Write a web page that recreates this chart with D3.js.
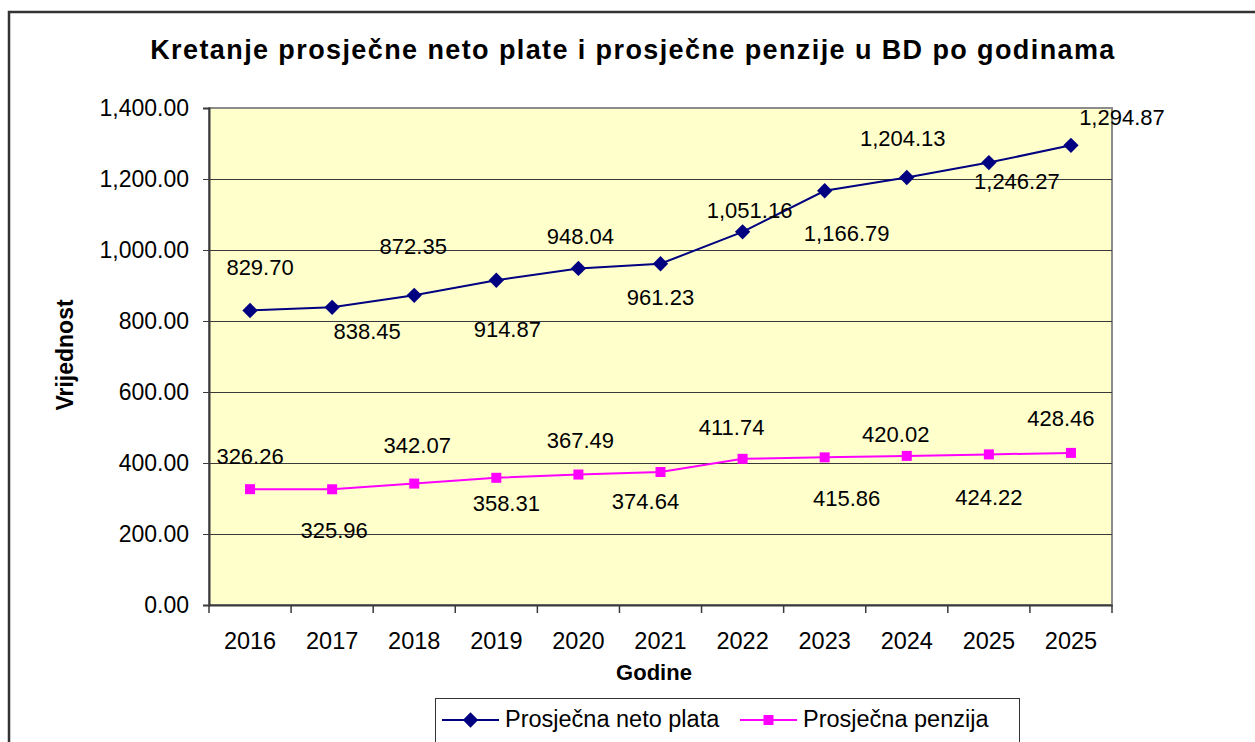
<!DOCTYPE html>
<html>
<head>
<meta charset="utf-8">
<script src="https://cdn.jsdelivr.net/npm/d3@7"></script>
<style>
  body { margin: 0; background: #fff; }
  svg { display: block; font-family: "Liberation Sans", Arial, sans-serif; }
</style>
</head>
<body>
<div class="chart"></div>
<script>
// data
const years = ["2016", "2017", "2018", "2019", "2020", "2021", "2022", "2023", "2024", "2025", "2025"];
const netoPlata = [829.70, 838.45, 872.35, 914.87, 948.04, 961.23, 1051.16, 1166.79, 1204.13, 1246.27, 1294.87];
const penzija = [326.26, 325.96, 342.07, 358.31, 367.49, 374.64, 411.74, 415.86, 420.02, 424.22, 428.46];
const yTicks = [0, 200, 400, 600, 800, 1000, 1200, 1400];

// where the value labels sit relative to the marker (px)
const netoLabelOff = [[10, -43], [35, 24], [-1, -49], [11, 49], [2, -32], [0, 33], [7, -22], [22, 42], [-4, -39], [28, 19], [51, -28]];
const penzLabelOff = [[0, -33], [2, 41], [3, -38], [10, 25], [2, -34], [-15, 29], [-11, -32], [22, 41], [-11, -22], [0, 43], [-10, -35]];

const W = 1255, H = 742;
const plot = { left: 209, right: 1112, top: 108, bottom: 605 };

const svg = d3.select(".chart")
    .append("svg")
    .attr("width", W)
    .attr("height", H);

// outer frame (runs off the right and bottom)
svg.append("path")
    .attr("d", `M9,${H + 5} V12 H${W + 5}`)
    .attr("fill", "none")
    .attr("stroke", "#333")
    .attr("stroke-width", 2.5);

const x = d3.scaleBand().domain(d3.range(years.length)).range([plot.left, plot.right]);
const y = d3.scaleLinear().domain([0, 1400]).range([plot.bottom, plot.top]);
const cx = i => x(i) + x.bandwidth() / 2;

// plot background
svg.append("rect")
    .attr("x", plot.left)
    .attr("y", plot.top)
    .attr("width", plot.right - plot.left)
    .attr("height", plot.bottom - plot.top)
    .attr("fill", "#FFFFCC")
    .attr("stroke", "#8c8c8c")
    .attr("stroke-width", 2);

// gridlines
svg.append("g")
    .selectAll("line")
    .data(yTicks.slice(1, -1))
    .enter()
    .append("line")
    .attr("x1", plot.left)
    .attr("x2", plot.right)
    .attr("y1", d => Math.round(y(d)) + 0.5)
    .attr("y2", d => Math.round(y(d)) + 0.5)
    .attr("stroke", "#3a3a3a")
    .attr("stroke-width", 1);

// y axis
const yAxis = d3.axisLeft(y)
    .tickValues(yTicks)
    .tickFormat(d3.format(",.2f"))
    .tickSize(6)
    .tickPadding(14);

const gy = svg.append("g")
    .attr("transform", `translate(${plot.left},0)`)
    .call(yAxis);
gy.select(".domain").attr("stroke", "#3a3a3a").attr("stroke-width", 2);
gy.selectAll(".tick line").attr("stroke", "#3a3a3a");
gy.selectAll(".tick text")
    .attr("font-size", 23)
    .attr("fill", "#000")
    .attr("font-family", "Liberation Sans, Arial, sans-serif");

// x axis: labels centred in bands, tick marks on band edges
const xAxis = d3.axisBottom(x)
    .tickFormat(i => years[i])
    .tickSize(0)
    .tickPadding(27);

const gx = svg.append("g")
    .attr("transform", `translate(0,${plot.bottom})`)
    .call(xAxis);
gx.select(".domain").attr("stroke", "#3a3a3a").attr("stroke-width", 2);
gx.selectAll(".tick text")
    .attr("font-size", 23.5)
    .attr("fill", "#000")
    .attr("font-family", "Liberation Sans, Arial, sans-serif");

svg.append("g")
    .selectAll("line")
    .data(d3.range(years.length + 1))
    .enter()
    .append("line")
    .attr("x1", i => i < years.length ? x(i) : plot.right)
    .attr("x2", i => i < years.length ? x(i) : plot.right)
    .attr("y1", plot.bottom)
    .attr("y2", plot.bottom + 8)
    .attr("stroke", "#3a3a3a")
    .attr("stroke-width", 1.5);

// titles
svg.append("text")
    .attr("x", 633)
    .attr("y", 59)
    .attr("text-anchor", "middle")
    .attr("font-size", 27)
    .attr("font-weight", "bold")
    .attr("letter-spacing", 1.4)
    .text("Kretanje prosječne neto plate i prosječne penzije u BD po godinama");

svg.append("text")
    .attr("transform", "translate(73,355) rotate(-90)")
    .attr("text-anchor", "middle")
    .attr("font-size", 23)
    .attr("font-weight", "bold")
    .text("Vrijednost");

svg.append("text")
    .attr("x", 654)
    .attr("y", 680)
    .attr("text-anchor", "middle")
    .attr("font-size", 22)
    .attr("font-weight", "bold")
    .text("Godine");

// series
const line = d3.line().x((d, i) => cx(i)).y(d => y(d));
const diamond = d3.symbol().type(d3.symbolDiamond2).size(150);
const square = d3.symbol().type(d3.symbolSquare2).size(128);

function drawSeries(values, color, sym, offsets) {
    const g = svg.append("g");
    g.append("path")
        .datum(values)
        .attr("d", line)
        .attr("fill", "none")
        .attr("stroke", color)
        .attr("stroke-width", 2);

    g.selectAll("path.mark")
        .data(values)
        .enter()
        .append("path")
        .attr("class", "mark")
        .attr("d", sym)
        .attr("transform", (d, i) => `translate(${cx(i)},${y(d)})`)
        .attr("fill", color);

    g.selectAll("text")
        .data(values)
        .enter()
        .append("text")
        .attr("x", (d, i) => cx(i) + offsets[i][0])
        .attr("y", (d, i) => y(d) + offsets[i][1])
        .attr("dy", "0.36em")
        .attr("text-anchor", "middle")
        .attr("font-size", 22)
        .attr("fill", "#000")
        .text(d => d3.format(",.2f")(d));
}

drawSeries(netoPlata, "#000080", diamond, netoLabelOff);
drawSeries(penzija, "#FF00FF", square, penzLabelOff);

// legend
const legend = svg.append("g");
legend.append("rect")
    .attr("x", 435.5)
    .attr("y", 698.5)
    .attr("width", 584)
    .attr("height", 60)
    .attr("fill", "#fff")
    .attr("stroke", "#333")
    .attr("stroke-width", 1);

const legendItems = [
    { name: "Prosječna neto plata", color: "#000080", sym: diamond, x0: 442, x1: 499, tx: 505 },
    { name: "Prosječna penzija", color: "#FF00FF", sym: square, x0: 740, x1: 797, tx: 803 }
];

legendItems.forEach(d => {
    legend.append("line")
        .attr("x1", d.x0).attr("x2", d.x1)
        .attr("y1", 720).attr("y2", 720)
        .attr("stroke", d.color)
        .attr("stroke-width", 2);
    legend.append("path")
        .attr("d", d.sym)
        .attr("transform", `translate(${(d.x0 + d.x1) / 2},720)`)
        .attr("fill", d.color);
    legend.append("text")
        .attr("x", d.tx)
        .attr("y", 727)
        .attr("font-size", 23.5)
        .text(d.name);
});
</script>
</body>
</html>
